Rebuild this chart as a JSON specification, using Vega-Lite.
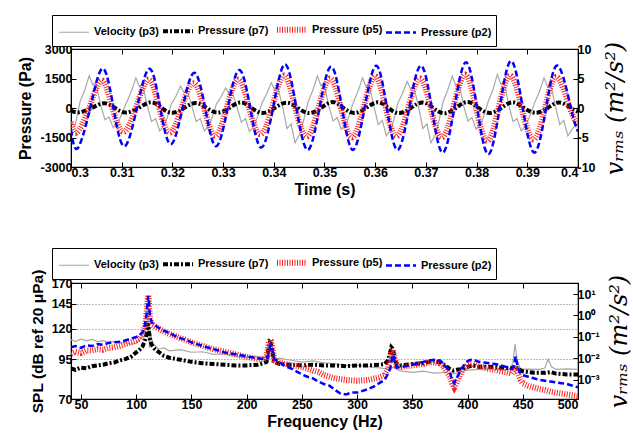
{
 "$schema": "https://vega.github.io/schema/vega-lite/v6.json",
 "padding": {"left": 16, "top": 13, "right": 5, "bottom": 5},
 "background": "white",
 "config": {
  "view": {"stroke": "black", "strokeWidth": 1.2},
  "font": "Liberation Sans",
  "axis": {"labelFont": "Liberation Sans", "labelFontWeight": "bold", "labelFontSize": 12.5, "labelColor": "black", "titleFont": "Liberation Sans", "titleFontWeight": "bold", "titleFontSize": 16, "titleColor": "black", "tickColor": "black", "tickSize": -5, "domainColor": "black", "grid": false, "labelPadding": 4, "titlePadding": 6},
  "legend": {"orient": "none", "direction": "horizontal", "columns": 4, "title": null, "symbolType": "M-1,0H3", "symbolSize": 225, "labelFont": "Liberation Sans", "labelFontSize": 11, "labelFontWeight": "bold", "labelColor": "black", "strokeColor": "black", "fillColor": "white", "padding": 4, "columnPadding": -4, "labelOffset": 17, "labelLimit": 200}
 },
 "datasets": {
  "top_v": [
   {"t":0.3000,"v":-2.4},{"t":0.3008,"v":-3.0},
   {"t":0.3018,"v":1.1},{"t":0.3027,"v":3.0},{"t":0.3036,"v":5.5},{"t":0.3043,"v":3.9},{"t":0.3049,"v":4.4},{"t":0.3058,"v":0.6},{"t":0.3067,"v":-2.0},{"t":0.3075,"v":-1.5},{"t":0.3083,"v":-3.3},{"t":0.3094,"v":-2.3},
   {"t":0.3110,"v":1.0},{"t":0.3119,"v":2.8},{"t":0.3128,"v":5.1},{"t":0.3135,"v":3.6},{"t":0.3141,"v":4.1},{"t":0.3150,"v":0.5},{"t":0.3159,"v":-2.3},{"t":0.3167,"v":-1.8},{"t":0.3175,"v":-3.9},{"t":0.3186,"v":-2.7},
   {"t":0.3198,"v":0.7},{"t":0.3207,"v":2.0},{"t":0.3216,"v":3.7},{"t":0.3223,"v":2.6},{"t":0.3229,"v":3.0},{"t":0.3238,"v":0.4},{"t":0.3247,"v":-2.3},{"t":0.3255,"v":-1.8},{"t":0.3263,"v":-3.9},{"t":0.3274,"v":-2.7},
   {"t":0.3287,"v":0.7},{"t":0.3296,"v":1.9},{"t":0.3305,"v":3.4},{"t":0.3312,"v":2.4},{"t":0.3318,"v":2.7},{"t":0.3327,"v":0.3},{"t":0.3336,"v":-2.4},{"t":0.3344,"v":-1.8},{"t":0.3352,"v":-4.0},{"t":0.3363,"v":-2.8},
   {"t":0.3377,"v":0.9},{"t":0.3386,"v":2.4},{"t":0.3395,"v":4.3},{"t":0.3402,"v":3.0},{"t":0.3408,"v":3.4},{"t":0.3417,"v":0.4},{"t":0.3426,"v":-3.5},{"t":0.3434,"v":-2.7},{"t":0.3442,"v":-5.9},{"t":0.3453,"v":-4.1},
   {"t":0.3468,"v":1.1},{"t":0.3477,"v":3.0},{"t":0.3486,"v":5.4},{"t":0.3493,"v":3.8},{"t":0.3499,"v":4.3},{"t":0.3508,"v":0.5},{"t":0.3517,"v":-2.2},{"t":0.3525,"v":-1.6},{"t":0.3533,"v":-3.6},{"t":0.3544,"v":-2.5},
   {"t":0.3557,"v":1.0},{"t":0.3566,"v":2.8},{"t":0.3575,"v":5.1},{"t":0.3582,"v":3.6},{"t":0.3588,"v":4.1},{"t":0.3597,"v":0.5},{"t":0.3606,"v":-2.8},{"t":0.3614,"v":-2.1},{"t":0.3622,"v":-4.7},{"t":0.3633,"v":-3.3},
   {"t":0.3645,"v":0.9},{"t":0.3654,"v":2.5},{"t":0.3663,"v":4.5},{"t":0.3670,"v":3.2},{"t":0.3676,"v":3.6},{"t":0.3685,"v":0.5},{"t":0.3694,"v":-3.5},{"t":0.3702,"v":-2.7},{"t":0.3710,"v":-5.9},{"t":0.3721,"v":-4.1},
   {"t":0.3734,"v":1.1},{"t":0.3743,"v":3.0},{"t":0.3752,"v":5.4},{"t":0.3759,"v":3.8},{"t":0.3765,"v":4.3},{"t":0.3774,"v":0.5},{"t":0.3783,"v":-2.2},{"t":0.3791,"v":-1.6},{"t":0.3799,"v":-3.6},{"t":0.3810,"v":-2.5},
   {"t":0.3823,"v":1.1},{"t":0.3832,"v":3.1},{"t":0.3841,"v":5.7},{"t":0.3848,"v":4.0},{"t":0.3854,"v":4.6},{"t":0.3863,"v":0.6},{"t":0.3872,"v":-2.3},{"t":0.3880,"v":-1.8},{"t":0.3888,"v":-3.9},{"t":0.3899,"v":-2.7},
   {"t":0.3915,"v":1.0},{"t":0.3924,"v":2.8},{"t":0.3933,"v":5.1},{"t":0.3940,"v":3.6},{"t":0.3946,"v":4.1},{"t":0.3955,"v":0.5},{"t":0.3964,"v":-2.8},{"t":0.3972,"v":-2.1},{"t":0.3980,"v":-4.7},{"t":0.3991,"v":-3.3},{"t":0.4000,"v":-2.9}
  ],
  "top_p": [
   {"s":"p7","t":0.3000,"v":-150},{"s":"p7","t":0.3016,"v":-220},{"s":"p7","t":0.30408,"v":0},{"s":"p7","t":0.30655,"v":240},{"s":"p7","t":0.30868,"v":0},{"s":"p7","t":0.3108,"v":-230},{"s":"p7","t":0.3133,"v":0},{"s":"p7","t":0.3158,"v":290},{"s":"p7","t":0.3179,"v":0},{"s":"p7","t":0.3200,"v":-240},{"s":"p7","t":0.3223,"v":0},{"s":"p7","t":0.3246,"v":250},{"s":"p7","t":0.32675,"v":0},{"s":"p7","t":0.3289,"v":-230},{"s":"p7","t":0.3312,"v":0},{"s":"p7","t":0.3335,"v":280},{"s":"p7","t":0.33565,"v":0},{"s":"p7","t":0.3378,"v":-250},{"s":"p7","t":0.34015,"v":0},{"s":"p7","t":0.3425,"v":270},{"s":"p7","t":0.34475,"v":0},{"s":"p7","t":0.3470,"v":-260},{"s":"p7","t":0.3493,"v":0},{"s":"p7","t":0.3516,"v":300},{"s":"p7","t":0.35375,"v":0},{"s":"p7","t":0.3559,"v":-250},{"s":"p7","t":0.3582,"v":0},{"s":"p7","t":0.3605,"v":290},{"s":"p7","t":0.3626,"v":0},{"s":"p7","t":0.3647,"v":-260},{"s":"p7","t":0.3670,"v":0},{"s":"p7","t":0.3693,"v":280},{"s":"p7","t":0.37145,"v":0},{"s":"p7","t":0.3736,"v":-270},{"s":"p7","t":0.3759,"v":0},{"s":"p7","t":0.3782,"v":300},{"s":"p7","t":0.3804,"v":0},{"s":"p7","t":0.3826,"v":-250},{"s":"p7","t":0.38485,"v":0},{"s":"p7","t":0.3871,"v":290},{"s":"p7","t":0.3894,"v":0},{"s":"p7","t":0.3917,"v":-240},{"s":"p7","t":0.3940,"v":0},{"s":"p7","t":0.3963,"v":280},{"s":"p7","t":0.3986,"v":0},{"s":"p7","t":0.4000,"v":-180},
   {"s":"p5","t":0.3000,"v":-700},{"s":"p5","t":0.3011,"v":-1250},{"s":"p5","t":0.30358,"v":0},{"s":"p5","t":0.30605,"v":1400},{"s":"p5","t":0.30818,"v":0},{"s":"p5","t":0.3103,"v":-1210},{"s":"p5","t":0.3128,"v":0},{"s":"p5","t":0.3153,"v":1450},{"s":"p5","t":0.3174,"v":0},{"s":"p5","t":0.3195,"v":-1250},{"s":"p5","t":0.3218,"v":0},{"s":"p5","t":0.3241,"v":1250},{"s":"p5","t":0.32625,"v":0},{"s":"p5","t":0.3284,"v":-1420},{"s":"p5","t":0.3307,"v":0},{"s":"p5","t":0.3330,"v":1450},{"s":"p5","t":0.33515,"v":0},{"s":"p5","t":0.3373,"v":-1330},{"s":"p5","t":0.33965,"v":0},{"s":"p5","t":0.3420,"v":1650},{"s":"p5","t":0.34425,"v":0},{"s":"p5","t":0.3465,"v":-1450},{"s":"p5","t":0.3488,"v":0},{"s":"p5","t":0.3511,"v":1500},{"s":"p5","t":0.35325,"v":0},{"s":"p5","t":0.3554,"v":-1500},{"s":"p5","t":0.3577,"v":0},{"s":"p5","t":0.3600,"v":1620},{"s":"p5","t":0.3621,"v":0},{"s":"p5","t":0.3642,"v":-1420},{"s":"p5","t":0.3665,"v":0},{"s":"p5","t":0.3688,"v":1500},{"s":"p5","t":0.37095,"v":0},{"s":"p5","t":0.3731,"v":-1500},{"s":"p5","t":0.3754,"v":0},{"s":"p5","t":0.3777,"v":1700},{"s":"p5","t":0.3799,"v":0},{"s":"p5","t":0.3821,"v":-1670},{"s":"p5","t":0.38435,"v":0},{"s":"p5","t":0.3866,"v":1650},{"s":"p5","t":0.3889,"v":0},{"s":"p5","t":0.3912,"v":-1590},{"s":"p5","t":0.3935,"v":0},{"s":"p5","t":0.3958,"v":1570},{"s":"p5","t":0.3984,"v":0},{"s":"p5","t":0.4000,"v":-850},
   {"s":"p2","t":0.3000,"v":-1100},{"s":"p2","t":0.3013,"v":-2050},{"s":"p2","t":0.30378,"v":0},{"s":"p2","t":0.30625,"v":2010},{"s":"p2","t":0.30838,"v":0},{"s":"p2","t":0.3105,"v":-1950},{"s":"p2","t":0.3130,"v":0},{"s":"p2","t":0.3155,"v":2000},{"s":"p2","t":0.3176,"v":0},{"s":"p2","t":0.3197,"v":-1840},{"s":"p2","t":0.3220,"v":0},{"s":"p2","t":0.3243,"v":1790},{"s":"p2","t":0.32645,"v":0},{"s":"p2","t":0.3286,"v":-1950},{"s":"p2","t":0.3309,"v":0},{"s":"p2","t":0.3332,"v":1930},{"s":"p2","t":0.33535,"v":0},{"s":"p2","t":0.3375,"v":-2010},{"s":"p2","t":0.33985,"v":0},{"s":"p2","t":0.3422,"v":2220},{"s":"p2","t":0.34445,"v":0},{"s":"p2","t":0.3467,"v":-2130},{"s":"p2","t":0.3490,"v":0},{"s":"p2","t":0.3513,"v":2100},{"s":"p2","t":0.35345,"v":0},{"s":"p2","t":0.3556,"v":-2130},{"s":"p2","t":0.3579,"v":0},{"s":"p2","t":0.3602,"v":2150},{"s":"p2","t":0.3623,"v":0},{"s":"p2","t":0.3644,"v":-2130},{"s":"p2","t":0.3667,"v":0},{"s":"p2","t":0.3690,"v":2150},{"s":"p2","t":0.37115,"v":0},{"s":"p2","t":0.3733,"v":-2270},{"s":"p2","t":0.3756,"v":0},{"s":"p2","t":0.3779,"v":2320},{"s":"p2","t":0.3801,"v":0},{"s":"p2","t":0.3823,"v":-2350},{"s":"p2","t":0.38455,"v":0},{"s":"p2","t":0.3868,"v":2390},{"s":"p2","t":0.3891,"v":0},{"s":"p2","t":0.3914,"v":-2270},{"s":"p2","t":0.3937,"v":0},{"s":"p2","t":0.3960,"v":2150},{"s":"p2","t":0.3986,"v":0},{"s":"p2","t":0.4000,"v":-1200}
  ],
  "bot_v": [
   {"f":41,"v":0.074},{"f":45,"v":0.06},{"f":50,"v":0.08},{"f":55,"v":0.065},{"f":60,"v":0.075},{"f":65,"v":0.06},{"f":70,"v":0.066},{"f":75,"v":0.055},{"f":80,"v":0.06},{"f":85,"v":0.05},{"f":90,"v":0.055},{"f":95,"v":0.045},{"f":100,"v":0.05},{"f":104,"v":0.08},{"f":107,"v":0.15},{"f":109,"v":0.3},{"f":110,"v":0.6},{"f":111,"v":2.0},{"f":111.5,"v":0.5},{"f":112,"v":0.03},{"f":113,"v":0.15},{"f":115,"v":0.05},{"f":120,"v":0.027},{"f":125,"v":0.03},{"f":130,"v":0.022},{"f":140,"v":0.025},{"f":150,"v":0.019},{"f":160,"v":0.02},{"f":170,"v":0.015},{"f":180,"v":0.016},{"f":190,"v":0.012},{"f":200,"v":0.011},{"f":210,"v":0.012},{"f":220,"v":0.01},{"f":222,"v":0.014},{"f":225,"v":0.009},{"f":230,"v":0.01},{"f":240,"v":0.008},{"f":250,"v":0.0065},{"f":260,"v":0.0075},{"f":270,"v":0.006},{"f":280,"v":0.0055},{"f":290,"v":0.0045},{"f":300,"v":0.0047},{"f":310,"v":0.004},{"f":320,"v":0.0035},{"f":330,"v":0.003},{"f":333,"v":0.004},{"f":336,"v":0.003},{"f":340,"v":0.0025},{"f":350,"v":0.0022},{"f":360,"v":0.0025},{"f":370,"v":0.002},{"f":380,"v":0.0022},{"f":385,"v":0.0018},{"f":390,"v":0.002},{"f":400,"v":0.0028},{"f":410,"v":0.003},{"f":420,"v":0.0032},{"f":430,"v":0.0028},{"f":438,"v":0.003},{"f":441,"v":0.006},{"f":443,"v":0.046},{"f":445,"v":0.008},{"f":448,"v":0.003},{"f":455,"v":0.0031},{"f":465,"v":0.003},{"f":470,"v":0.0035},{"f":473,"v":0.009},{"f":476,"v":0.004},{"f":480,"v":0.003},{"f":490,"v":0.0032},{"f":500,"v":0.003}
  ],
  "bot_p": [
   {"s":"p7","f":41,"v":88.5},{"s":"p7","f":45,"v":87.5},{"s":"p7","f":50,"v":89},{"s":"p7","f":55,"v":88.5},{"s":"p7","f":60,"v":90},{"s":"p7","f":65,"v":90.5},{"s":"p7","f":70,"v":91},{"s":"p7","f":75,"v":92},{"s":"p7","f":80,"v":92.5},{"s":"p7","f":85,"v":94},{"s":"p7","f":90,"v":95},{"s":"p7","f":95,"v":96.5},{"s":"p7","f":100,"v":100},{"s":"p7","f":103,"v":102},{"s":"p7","f":106,"v":105},{"s":"p7","f":108,"v":110},{"s":"p7","f":109.5,"v":115},{"s":"p7","f":110.5,"v":122},{"s":"p7","f":111,"v":125},{"s":"p7","f":111.5,"v":118},{"s":"p7","f":112.5,"v":110},{"s":"p7","f":114,"v":106},{"s":"p7","f":117,"v":102.5},{"s":"p7","f":120,"v":100.5},{"s":"p7","f":125,"v":97.5},{"s":"p7","f":130,"v":96},{"s":"p7","f":140,"v":94.5},{"s":"p7","f":150,"v":93},{"s":"p7","f":160,"v":92},{"s":"p7","f":170,"v":91.5},{"s":"p7","f":180,"v":91},{"s":"p7","f":190,"v":90.5},{"s":"p7","f":200,"v":90.5},{"s":"p7","f":210,"v":91},{"s":"p7","f":215,"v":92},{"s":"p7","f":218,"v":93},{"s":"p7","f":220,"v":104},{"s":"p7","f":221,"v":108},{"s":"p7","f":222,"v":107},{"s":"p7","f":223,"v":103},{"s":"p7","f":225,"v":93},{"s":"p7","f":230,"v":91.5},{"s":"p7","f":240,"v":91},{"s":"p7","f":250,"v":90.5},{"s":"p7","f":260,"v":91},{"s":"p7","f":270,"v":90.5},{"s":"p7","f":280,"v":90.5},{"s":"p7","f":290,"v":90},{"s":"p7","f":300,"v":90.5},{"s":"p7","f":310,"v":90.5},{"s":"p7","f":320,"v":91},{"s":"p7","f":325,"v":91.5},{"s":"p7","f":328,"v":94},{"s":"p7","f":330,"v":100},{"s":"p7","f":331,"v":104},{"s":"p7","f":332,"v":103},{"s":"p7","f":333,"v":100},{"s":"p7","f":334,"v":95},{"s":"p7","f":336,"v":91},{"s":"p7","f":340,"v":90.5},{"s":"p7","f":350,"v":91.5},{"s":"p7","f":360,"v":92},{"s":"p7","f":365,"v":93},{"s":"p7","f":370,"v":93.5},{"s":"p7","f":375,"v":92.5},{"s":"p7","f":380,"v":90.5},{"s":"p7","f":384,"v":88},{"s":"p7","f":387,"v":87},{"s":"p7","f":390,"v":87.5},{"s":"p7","f":395,"v":88},{"s":"p7","f":400,"v":89.5},{"s":"p7","f":405,"v":90.5},{"s":"p7","f":410,"v":89.5},{"s":"p7","f":420,"v":89.5},{"s":"p7","f":430,"v":89},{"s":"p7","f":440,"v":88.5},{"s":"p7","f":443,"v":90},{"s":"p7","f":446,"v":88},{"s":"p7","f":450,"v":86.5},{"s":"p7","f":460,"v":85.5},{"s":"p7","f":470,"v":85.5},{"s":"p7","f":475,"v":86},{"s":"p7","f":480,"v":85},{"s":"p7","f":490,"v":84.5},{"s":"p7","f":500,"v":84.5},
   {"s":"p5","f":41,"v":99},{"s":"p5","f":45,"v":100.5},{"s":"p5","f":50,"v":99.5},{"s":"p5","f":55,"v":101.5},{"s":"p5","f":60,"v":101.5},{"s":"p5","f":65,"v":102.5},{"s":"p5","f":70,"v":102},{"s":"p5","f":75,"v":103.5},{"s":"p5","f":80,"v":104},{"s":"p5","f":85,"v":105},{"s":"p5","f":90,"v":106.5},{"s":"p5","f":95,"v":108},{"s":"p5","f":100,"v":109.5},{"s":"p5","f":103,"v":111},{"s":"p5","f":106,"v":115},{"s":"p5","f":108,"v":122},{"s":"p5","f":109.5,"v":135},{"s":"p5","f":110.5,"v":150},{"s":"p5","f":111,"v":155},{"s":"p5","f":111.5,"v":147},{"s":"p5","f":112.5,"v":130},{"s":"p5","f":114,"v":124},{"s":"p5","f":117,"v":122},{"s":"p5","f":120,"v":120},{"s":"p5","f":125,"v":117.5},{"s":"p5","f":130,"v":115},{"s":"p5","f":135,"v":113.5},{"s":"p5","f":140,"v":111.5},{"s":"p5","f":145,"v":110},{"s":"p5","f":150,"v":108},{"s":"p5","f":160,"v":105},{"s":"p5","f":170,"v":102.5},{"s":"p5","f":180,"v":100.5},{"s":"p5","f":190,"v":98.5},{"s":"p5","f":200,"v":96.5},{"s":"p5","f":207,"v":95.5},{"s":"p5","f":215,"v":94.5},{"s":"p5","f":218,"v":96},{"s":"p5","f":220,"v":108},{"s":"p5","f":221,"v":110},{"s":"p5","f":222,"v":109},{"s":"p5","f":223,"v":106},{"s":"p5","f":225,"v":94},{"s":"p5","f":230,"v":92.5},{"s":"p5","f":240,"v":90.5},{"s":"p5","f":250,"v":89.5},{"s":"p5","f":260,"v":87},{"s":"p5","f":265,"v":86},{"s":"p5","f":270,"v":84},{"s":"p5","f":280,"v":82},{"s":"p5","f":290,"v":81},{"s":"p5","f":300,"v":80.5},{"s":"p5","f":310,"v":81},{"s":"p5","f":320,"v":82.5},{"s":"p5","f":325,"v":84},{"s":"p5","f":328,"v":88},{"s":"p5","f":330,"v":95},{"s":"p5","f":331,"v":101},{"s":"p5","f":332,"v":102},{"s":"p5","f":333,"v":100},{"s":"p5","f":334,"v":95},{"s":"p5","f":336,"v":90},{"s":"p5","f":340,"v":89.5},{"s":"p5","f":350,"v":90.5},{"s":"p5","f":360,"v":91.5},{"s":"p5","f":365,"v":92.5},{"s":"p5","f":370,"v":92.5},{"s":"p5","f":375,"v":92},{"s":"p5","f":378,"v":90},{"s":"p5","f":381,"v":86.5},{"s":"p5","f":384,"v":83},{"s":"p5","f":386,"v":79},{"s":"p5","f":388,"v":76.5},{"s":"p5","f":390,"v":79},{"s":"p5","f":393,"v":84},{"s":"p5","f":396,"v":88},{"s":"p5","f":400,"v":91},{"s":"p5","f":405,"v":91.5},{"s":"p5","f":410,"v":90},{"s":"p5","f":415,"v":89},{"s":"p5","f":420,"v":88},{"s":"p5","f":425,"v":87.5},{"s":"p5","f":430,"v":86.5},{"s":"p5","f":435,"v":86},{"s":"p5","f":440,"v":85},{"s":"p5","f":442,"v":87},{"s":"p5","f":444,"v":90},{"s":"p5","f":446,"v":85},{"s":"p5","f":448,"v":81},{"s":"p5","f":450,"v":79},{"s":"p5","f":455,"v":77.5},{"s":"p5","f":460,"v":76.5},{"s":"p5","f":465,"v":75.5},{"s":"p5","f":470,"v":75},{"s":"p5","f":475,"v":74},{"s":"p5","f":480,"v":73.5},{"s":"p5","f":485,"v":73},{"s":"p5","f":490,"v":72.5},{"s":"p5","f":495,"v":72},{"s":"p5","f":500,"v":71.5},
   {"s":"p2","f":41,"v":104},{"s":"p2","f":45,"v":105},{"s":"p2","f":50,"v":103.5},{"s":"p2","f":55,"v":105.5},{"s":"p2","f":60,"v":105},{"s":"p2","f":65,"v":106.5},{"s":"p2","f":70,"v":106},{"s":"p2","f":75,"v":107.5},{"s":"p2","f":80,"v":108},{"s":"p2","f":85,"v":108.5},{"s":"p2","f":90,"v":109.5},{"s":"p2","f":95,"v":111},{"s":"p2","f":100,"v":112.5},{"s":"p2","f":103,"v":114},{"s":"p2","f":106,"v":117},{"s":"p2","f":108,"v":124},{"s":"p2","f":109.5,"v":135},{"s":"p2","f":110.5,"v":150},{"s":"p2","f":111,"v":154},{"s":"p2","f":111.5,"v":148},{"s":"p2","f":112.5,"v":132},{"s":"p2","f":114,"v":126},{"s":"p2","f":117,"v":123},{"s":"p2","f":120,"v":121},{"s":"p2","f":125,"v":118},{"s":"p2","f":130,"v":116},{"s":"p2","f":135,"v":113.5},{"s":"p2","f":140,"v":111.5},{"s":"p2","f":145,"v":110},{"s":"p2","f":150,"v":108},{"s":"p2","f":160,"v":105},{"s":"p2","f":170,"v":102.5},{"s":"p2","f":180,"v":100},{"s":"p2","f":190,"v":98.5},{"s":"p2","f":200,"v":97},{"s":"p2","f":207,"v":96},{"s":"p2","f":215,"v":95},{"s":"p2","f":219,"v":96},{"s":"p2","f":221,"v":104},{"s":"p2","f":222,"v":106},{"s":"p2","f":223,"v":103},{"s":"p2","f":225,"v":95},{"s":"p2","f":230,"v":92.5},{"s":"p2","f":235,"v":90},{"s":"p2","f":240,"v":88.5},{"s":"p2","f":245,"v":86.5},{"s":"p2","f":250,"v":84.5},{"s":"p2","f":255,"v":83},{"s":"p2","f":260,"v":82},{"s":"p2","f":265,"v":80},{"s":"p2","f":270,"v":78.5},{"s":"p2","f":275,"v":77.5},{"s":"p2","f":280,"v":75},{"s":"p2","f":285,"v":73},{"s":"p2","f":290,"v":72.5},{"s":"p2","f":295,"v":73.5},{"s":"p2","f":300,"v":73.5},{"s":"p2","f":305,"v":74.5},{"s":"p2","f":310,"v":75.5},{"s":"p2","f":315,"v":77},{"s":"p2","f":320,"v":79},{"s":"p2","f":325,"v":81},{"s":"p2","f":328,"v":85},{"s":"p2","f":330,"v":88.5},{"s":"p2","f":332,"v":97},{"s":"p2","f":333,"v":98},{"s":"p2","f":334,"v":93},{"s":"p2","f":336,"v":89},{"s":"p2","f":340,"v":89.5},{"s":"p2","f":345,"v":90},{"s":"p2","f":350,"v":91},{"s":"p2","f":355,"v":92},{"s":"p2","f":360,"v":93},{"s":"p2","f":365,"v":94},{"s":"p2","f":370,"v":94.5},{"s":"p2","f":375,"v":94},{"s":"p2","f":378,"v":92},{"s":"p2","f":381,"v":89},{"s":"p2","f":384,"v":86},{"s":"p2","f":386,"v":81},{"s":"p2","f":388,"v":79},{"s":"p2","f":390,"v":82},{"s":"p2","f":393,"v":86},{"s":"p2","f":396,"v":90},{"s":"p2","f":400,"v":93.5},{"s":"p2","f":403,"v":94.5},{"s":"p2","f":407,"v":94},{"s":"p2","f":410,"v":93},{"s":"p2","f":415,"v":92.5},{"s":"p2","f":420,"v":92},{"s":"p2","f":425,"v":91.5},{"s":"p2","f":430,"v":90.5},{"s":"p2","f":435,"v":89.5},{"s":"p2","f":440,"v":88.5},{"s":"p2","f":442,"v":90},{"s":"p2","f":443.5,"v":97},{"s":"p2","f":445,"v":91},{"s":"p2","f":447,"v":86},{"s":"p2","f":450,"v":84},{"s":"p2","f":455,"v":83},{"s":"p2","f":460,"v":82},{"s":"p2","f":465,"v":81},{"s":"p2","f":470,"v":80.5},{"s":"p2","f":475,"v":80},{"s":"p2","f":480,"v":79.5},{"s":"p2","f":485,"v":79},{"s":"p2","f":490,"v":78.5},{"s":"p2","f":495,"v":77.5},{"s":"p2","f":500,"v":76.5}
  ]
 },
 "vconcat": [
  {
   "width": 507, "height": 118,
   "layer": [
    {
     "data": {"name": "top_v"},
     "mark": {"type": "line", "clip": true, "color": "#a8a8a8", "strokeWidth": 1.2},
     "encoding": {
      "x": {"field": "t", "type": "quantitative", "scale": {"domain": [0.3, 0.4], "nice": false, "zero": false}, "axis": {"orient": "top", "labels": false, "title": null, "domain": false, "values": [0.3,0.31,0.32,0.33,0.34,0.35,0.36,0.37,0.38,0.39,0.4]}},
      "y": {"field": "v", "type": "quantitative", "scale": {"domain": [-10, 10], "nice": false}, "axis": {"orient": "right", "values": [-10,-5,0,5,10], "labelExpr": "'' + datum.value", "title": "vᵣₘₛ (m²/s²)", "titleFont": "DejaVu Serif", "titleFontStyle": "italic", "titleFontWeight": "normal", "titleFontSize": 24, "titleAngle": 270, "titleBaseline": "top", "titlePadding": 8}}
     }
    },
    {
     "data": {"name": "top_p"},
     "mark": {"type": "line", "clip": true, "interpolate": "natural"},
     "encoding": {
      "x": {"field": "t", "type": "quantitative", "scale": {"domain": [0.3, 0.4], "nice": false, "zero": false}, "axis": {"orient": "bottom", "title": "Time (s)", "values": [0.3,0.31,0.32,0.33,0.34,0.35,0.36,0.37,0.38,0.39,0.4], "labelExpr": "'' + datum.value", "titlePadding": 3}},
      "y": {"field": "v", "type": "quantitative", "scale": {"domain": [-3000, 3000], "nice": false}, "axis": {"orient": "left", "values": [-3000,-1500,0,1500,3000], "labelExpr": "'' + datum.value", "title": "Pressure (Pa)", "titlePadding": 7}},
      "color": {"field": "s", "type": "nominal", "scale": {"domain": ["p3", "p7", "p5", "p2"], "range": ["#a8a8a8", "#000000", "#ff2020", "#0000ff"]}, "legend": {"legendX": -19, "legendY": -34, "labelExpr": "datum.label == 'p3' ? 'Velocity (p3)' : 'Pressure (' + datum.label + ')'"}},
      "strokeDash": {"field": "s", "type": "nominal", "scale": {"domain": ["p3", "p7", "p5", "p2"], "range": [[1,0],[5,2,2,2],[1,1.5],[6,3]]}, "legend": {"legendX": -19, "legendY": -34, "labelExpr": "datum.label == 'p3' ? 'Velocity (p3)' : 'Pressure (' + datum.label + ')'"}},
      "strokeWidth": {"field": "s", "type": "nominal", "scale": {"type": "ordinal", "domain": ["p3", "p7", "p5", "p2"], "range": [1.2, 4, 6, 2.5]}, "legend": {"legendX": -19, "legendY": -34, "labelExpr": "datum.label == 'p3' ? 'Velocity (p3)' : 'Pressure (' + datum.label + ')'"}}
     }
    }
   ],
   "resolve": {"scale": {"y": "independent"}, "axis": {"x": "independent"}}
  },
  {
   "width": 507, "height": 116,
   "layer": [
    {
     "data": {"name": "bot_v"},
     "mark": {"type": "line", "clip": true, "color": "#a8a8a8", "strokeWidth": 1.2},
     "encoding": {
      "x": {"field": "f", "type": "quantitative", "scale": {"domain": [41, 500], "nice": false, "zero": false}, "axis": {"orient": "top", "labels": false, "title": null, "domain": false, "values": [50,100,150,200,250,300,350,400,450,500]}},
      "y": {"field": "v", "type": "quantitative", "scale": {"type": "log", "domain": [0.000124, 32.7], "nice": false}, "axis": {"orient": "right", "values": [0.001, 0.01, 0.1, 1, 10], "labelExpr": "'10' + (datum.value >= 5 ? '¹' : datum.value >= 0.5 ? '⁰' : datum.value >= 0.05 ? '⁻¹' : datum.value >= 0.005 ? '⁻²' : '⁻³')", "title": "vᵣₘₛ (m²/s²)", "titleFont": "DejaVu Serif", "titleFontStyle": "italic", "titleFontWeight": "normal", "titleFontSize": 24, "titleAngle": 270, "titleBaseline": "top", "titlePadding": 8}}
     }
    },
    {
     "data": {"name": "bot_p"},
     "mark": {"type": "line", "clip": true},
     "encoding": {
      "x": {"field": "f", "type": "quantitative", "scale": {"domain": [41, 500], "nice": false, "zero": false}, "axis": {"orient": "bottom", "title": "Frequency (Hz)", "values": [50,100,150,200,250,300,350,400,450,500], "labelExpr": "'' + datum.value", "titlePadding": 3}},
      "y": {"field": "v", "type": "quantitative", "scale": {"type": "log", "domain": [70, 170], "nice": false}, "axis": {"orient": "left", "values": [70, 95, 120, 145, 170], "labelExpr": "'' + datum.value", "title": "SPL (dB ref 20 μPa)", "titleFontSize": 15.5, "titlePadding": 6, "grid": true, "gridColor": "#777777", "gridDash": [1, 2], "gridOpacity": {"condition": {"test": "datum.value == 70 || datum.value == 170", "value": 0}, "value": 1}}},
      "color": {"field": "s", "type": "nominal", "scale": {"domain": ["p3", "p7", "p5", "p2"], "range": ["#a8a8a8", "#000000", "#ff2020", "#0000ff"]}, "legend": {"legendX": -19, "legendY": -35, "labelExpr": "datum.label == 'p3' ? 'Velocity (p3)' : 'Pressure (' + datum.label + ')'"}},
      "strokeDash": {"field": "s", "type": "nominal", "scale": {"domain": ["p3", "p7", "p5", "p2"], "range": [[1,0],[5,2,2,2],[1,1.5],[6,3]]}, "legend": {"legendX": -19, "legendY": -35, "labelExpr": "datum.label == 'p3' ? 'Velocity (p3)' : 'Pressure (' + datum.label + ')'"}},
      "strokeWidth": {"field": "s", "type": "nominal", "scale": {"type": "ordinal", "domain": ["p3", "p7", "p5", "p2"], "range": [1.2, 4, 6, 2.5]}, "legend": {"legendX": -19, "legendY": -35, "labelExpr": "datum.label == 'p3' ? 'Velocity (p3)' : 'Pressure (' + datum.label + ')'"}}
     }
    }
   ],
   "resolve": {"scale": {"y": "independent"}, "axis": {"x": "independent"}}
  }
 ],
 "spacing": 116,
 "bounds": "flush",
 "resolve": {"scale": {"color": "independent", "strokeDash": "independent", "strokeWidth": "independent"}, "legend": {"color": "independent", "strokeDash": "independent", "strokeWidth": "independent"}}
}
